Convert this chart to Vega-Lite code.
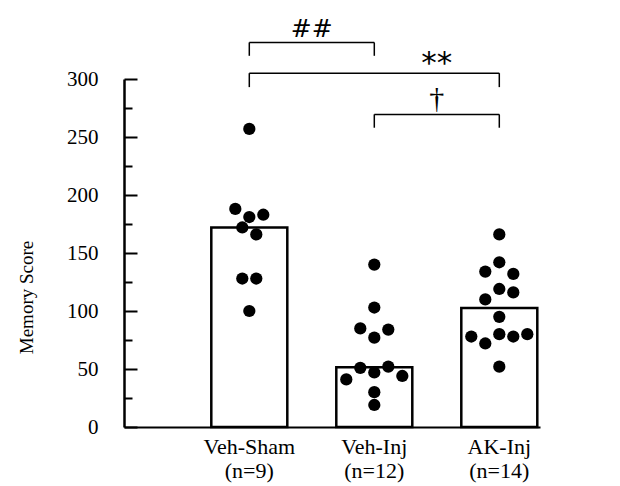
{
  "$schema": "https://vega.github.io/schema/vega-lite/v6.json",
  "width": 416,
  "height": 348,
  "autosize": {"type": "none"},
  "padding": {"left": 124, "top": 79, "right": 80, "bottom": 59},
  "background": "white",
  "config": {
    "view": {"stroke": null},
    "font": "Liberation Serif"
  },
  "datasets": {
    "bars": [
      {"group": "Veh-Sham", "mean": 172},
      {"group": "Veh-Inj", "mean": 51.5},
      {"group": "AK-Inj", "mean": 102.5}
    ],
    "dots": [
      {"group": "Veh-Sham", "score": 257, "slot": 0},
      {"group": "Veh-Sham", "score": 188, "slot": -1},
      {"group": "Veh-Sham", "score": 181, "slot": 0},
      {"group": "Veh-Sham", "score": 183, "slot": 1},
      {"group": "Veh-Sham", "score": 172, "slot": -0.5},
      {"group": "Veh-Sham", "score": 166, "slot": 0.5},
      {"group": "Veh-Sham", "score": 128, "slot": -0.5},
      {"group": "Veh-Sham", "score": 128, "slot": 0.5},
      {"group": "Veh-Sham", "score": 100, "slot": 0},
      {"group": "Veh-Inj", "score": 140, "slot": 0},
      {"group": "Veh-Inj", "score": 103, "slot": 0},
      {"group": "Veh-Inj", "score": 85, "slot": -1},
      {"group": "Veh-Inj", "score": 84, "slot": 1},
      {"group": "Veh-Inj", "score": 77, "slot": 0},
      {"group": "Veh-Inj", "score": 51, "slot": -1},
      {"group": "Veh-Inj", "score": 52, "slot": 1},
      {"group": "Veh-Inj", "score": 41, "slot": -2},
      {"group": "Veh-Inj", "score": 47, "slot": 0},
      {"group": "Veh-Inj", "score": 44, "slot": 2},
      {"group": "Veh-Inj", "score": 30, "slot": 0},
      {"group": "Veh-Inj", "score": 19, "slot": 0},
      {"group": "AK-Inj", "score": 166, "slot": 0},
      {"group": "AK-Inj", "score": 142, "slot": 0},
      {"group": "AK-Inj", "score": 134, "slot": -1},
      {"group": "AK-Inj", "score": 132, "slot": 1},
      {"group": "AK-Inj", "score": 119, "slot": 0},
      {"group": "AK-Inj", "score": 116, "slot": 1},
      {"group": "AK-Inj", "score": 110, "slot": -1},
      {"group": "AK-Inj", "score": 95, "slot": 0},
      {"group": "AK-Inj", "score": 78, "slot": -2},
      {"group": "AK-Inj", "score": 72, "slot": -1},
      {"group": "AK-Inj", "score": 80, "slot": 0},
      {"group": "AK-Inj", "score": 78, "slot": 1},
      {"group": "AK-Inj", "score": 80, "slot": 2},
      {"group": "AK-Inj", "score": 52, "slot": 0}
    ],
    "brackets": [
      {"from": "Veh-Sham", "to": "Veh-Inj", "top": 331.5, "bottom": 320, "label": "##", "labelAt": "Veh-Sham", "labelY": 343},
      {"from": "Veh-Sham", "to": "AK-Inj", "top": 305, "bottom": 293, "label": "**", "labelAt": "Veh-Inj", "labelY": 313},
      {"from": "Veh-Inj", "to": "AK-Inj", "top": 269.5, "bottom": 258, "label": "†", "labelAt": "Veh-Inj", "labelY": 283}
    ]
  },
  "resolve": {"axis": {"y": "independent"}},
  "layer": [
    {
      "data": {"name": "bars"},
      "mark": {"type": "bar", "fill": "white", "stroke": "black", "strokeWidth": 2.5, "width": 76},
      "encoding": {
        "x": {
          "field": "group", "type": "nominal",
          "scale": {"domain": ["Veh-Sham", "Veh-Inj", "AK-Inj"], "paddingInner": 0.392, "paddingOuter": 0.36, "align": 0.97},
          "axis": {
            "title": null,
            "labelAngle": 0,
            "ticks": false,
            "domainColor": "black",
            "domainWidth": 2,
            "labelFont": "Liberation Serif",
            "labelFontSize": 22,
            "labelColor": "black",
            "labelPadding": 9,
            "labelLineHeight": 24,
            "labelBaseline": "top",
            "labelExpr": "[datum.label, datum.label == 'Veh-Sham' ? '(n=9)' : datum.label == 'Veh-Inj' ? '(n=12)' : '(n=14)']"
          }
        },
        "y": {
          "field": "mean", "type": "quantitative",
          "scale": {"domain": [0, 300], "nice": false},
          "axis": {
            "title": "Memory Score",
            "orient": "left",
            "values": [0, 50, 100, 150, 200, 250, 300],
            "grid": false,
            "tickSize": -13,
            "tickWidth": 2,
            "tickColor": "black",
            "domainColor": "black",
            "domainWidth": 2.5,
            "labelFont": "Liberation Serif",
            "labelFontSize": 21,
            "labelColor": "black",
            "labelPadding": 39,
            "titleFont": "Liberation Serif",
            "titleFontSize": 19,
            "titleFontWeight": "normal",
            "titleColor": "black",
            "titleX": -88,
            "titleY": 218,
            "titleAnchor": null
          }
        }
      }
    },
    {
      "data": {"name": "dots"},
      "mark": {"type": "circle", "size": 150, "color": "black", "opacity": 1},
      "encoding": {
        "x": {"field": "group", "type": "nominal"},
        "xOffset": {"field": "slot", "type": "quantitative", "scale": {"domain": [-2.714, 2.714]}},
        "y": {
          "field": "score", "type": "quantitative",
          "axis": {
            "orient": "left",
            "title": null,
            "values": [25, 75, 125, 175, 225, 275],
            "labels": false,
            "domain": false,
            "grid": false,
            "tickSize": -8,
            "tickWidth": 2,
            "tickColor": "black"
          }
        }
      }
    },
    {
      "data": {"name": "brackets"},
      "mark": {"type": "rule", "color": "black", "strokeWidth": 1.5},
      "encoding": {
        "x": {"field": "from", "type": "nominal", "bandPosition": 0.5},
        "x2": {"field": "to"},
        "y": {"field": "top", "type": "quantitative", "axis": null}
      }
    },
    {
      "data": {"name": "brackets"},
      "mark": {"type": "rule", "color": "black", "strokeWidth": 1.5},
      "encoding": {
        "x": {"field": "from", "type": "nominal", "bandPosition": 0.5},
        "y": {"field": "top", "type": "quantitative", "axis": null},
        "y2": {"field": "bottom"}
      }
    },
    {
      "data": {"name": "brackets"},
      "mark": {"type": "rule", "color": "black", "strokeWidth": 1.5},
      "encoding": {
        "x": {"field": "to", "type": "nominal", "bandPosition": 0.5},
        "y": {"field": "top", "type": "quantitative", "axis": null},
        "y2": {"field": "bottom"}
      }
    },
    {
      "data": {"name": "brackets"},
      "transform": [{"filter": "datum.label == '##'"}],
      "mark": {"type": "text", "font": "DejaVu Sans", "fontSize": 25, "color": "black", "baseline": "middle", "align": "center"},
      "encoding": {
        "x": {"field": "labelAt", "type": "nominal", "bandPosition": 1.322},
        "y": {"field": "labelY", "type": "quantitative", "axis": null},
        "text": {"field": "label"}
      }
    },
    {
      "data": {"name": "brackets"},
      "transform": [{"filter": "datum.label == '**'"}],
      "mark": {"type": "text", "font": "DejaVu Sans", "fontSize": 31, "color": "black", "baseline": "middle", "align": "center"},
      "encoding": {
        "x": {"field": "labelAt", "type": "nominal", "bandPosition": 1.322},
        "y": {"field": "labelY", "type": "quantitative", "axis": null},
        "text": {"field": "label"}
      }
    },
    {
      "data": {"name": "brackets"},
      "transform": [{"filter": "datum.label == '†'"}],
      "mark": {"type": "text", "font": "Liberation Serif", "fontSize": 30, "color": "black", "baseline": "middle", "align": "center"},
      "encoding": {
        "x": {"field": "labelAt", "type": "nominal", "bandPosition": 1.322},
        "y": {"field": "labelY", "type": "quantitative", "axis": null},
        "text": {"field": "label"}
      }
    }
  ]
}
